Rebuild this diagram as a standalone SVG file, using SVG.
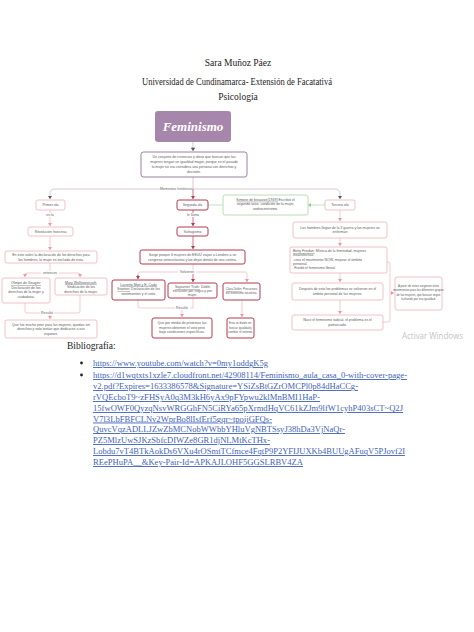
<svg xmlns="http://www.w3.org/2000/svg" width="474" height="632" viewBox="0 0 474 632">
<style>
.hdr{font-family:"Liberation Serif","Times New Roman",serif;font-size:9.5px;fill:#222;text-anchor:middle}
.t{font-family:"Liberation Sans",Arial,sans-serif;font-size:3.5px;fill:#5a5a5a;text-anchor:middle}
.ts{font-family:"Liberation Sans",Arial,sans-serif;font-size:2.9px;fill:#5a5a5a;text-anchor:middle}
.tl{font-family:"Liberation Sans",Arial,sans-serif;font-size:3.5px;fill:#5a5a5a}
.lbl{font-family:"Liberation Sans",Arial,sans-serif;font-size:3.5px;fill:#666;text-anchor:middle}
.u{text-decoration:underline}
.bp{fill:#fff;stroke:#eeb2b8;stroke-width:0.8}
.br{fill:#fff;stroke:#b43a4c;stroke-width:1}
.bg{fill:#fff;stroke:#a6d8a0;stroke-width:0.8}
.cp{fill:none;stroke:#eeb2b8;stroke-width:0.7}
.cr{fill:none;stroke:#b43a4c;stroke-width:0.7}
.cg{fill:none;stroke:#a6d8a0;stroke-width:0.7}
.cm{fill:none;stroke:#cbb0bd;stroke-width:0.7}
.lnk{font-family:"Liberation Serif","Times New Roman",serif;font-size:9px;fill:#3f63b8;text-decoration:underline}
</style>
<defs>
<marker id="ap" markerWidth="4" markerHeight="4" refX="3" refY="2" orient="auto" markerUnits="userSpaceOnUse"><path d="M0,0 L3,2 L0,4 z" fill="#e99aa3"/></marker>
<marker id="ar" markerWidth="4" markerHeight="4" refX="3" refY="2" orient="auto" markerUnits="userSpaceOnUse"><path d="M0,0 L3,2 L0,4 z" fill="#b43a4c"/></marker>
<marker id="am" markerWidth="4" markerHeight="4" refX="3" refY="2" orient="auto" markerUnits="userSpaceOnUse"><path d="M0,0 L3,2 L0,4 z" fill="#555"/></marker>
<marker id="ag" markerWidth="4" markerHeight="4" refX="3" refY="2" orient="auto" markerUnits="userSpaceOnUse"><path d="M0,0 L3,2 L0,4 z" fill="#8fcf88"/></marker>
</defs>
<rect width="474" height="632" fill="#fff"/>

<g id="header">
<text class="hdr" x="238" y="66">Sara Muñoz Páez</text>
<text class="hdr" x="237" y="85" textLength="190" lengthAdjust="spacingAndGlyphs">Universidad de Cundinamarca- Extensión de Facatativá</text>
<text class="hdr" x="238" y="100">Psicología</text>
</g>

<g id="connectors">
<line class="cm" x1="193" y1="142" x2="193" y2="151" marker-end="url(#am)"/>
<line class="cm" x1="193" y1="177" x2="193" y2="189"/>
<path class="cm" d="M55,189 H335 Q340,189 340,194 V199" marker-end="url(#am)"/>
<path class="cm" d="M55,189 Q50,189 50,194 V199" marker-end="url(#am)"/>
<line class="cr" x1="193" y1="189" x2="193" y2="199" marker-end="url(#ar)"/>
<line class="cp" x1="50" y1="210" x2="50" y2="226" marker-end="url(#ap)"/>
<line class="cp" x1="50" y1="236" x2="50" y2="250" marker-end="url(#ap)"/>
<line class="cp" x1="50" y1="263" x2="50" y2="273"/>
<path class="cp" d="M25,277 V275 Q25,273 27,273 H78 Q80,273 80,275 V277" marker-end="url(#ap)"/>
<line class="cp" x1="25" y1="275" x2="25" y2="277" marker-end="url(#ap)"/>
<path class="cp" d="M25,303 V311 Q25,313 27,313 H78 Q80,313 80,311 V295"/>
<line class="cp" x1="50" y1="313" x2="50" y2="319" marker-end="url(#ap)"/>
<line class="cr" x1="193" y1="210" x2="193" y2="226" marker-end="url(#ar)"/>
<line class="cr" x1="193" y1="236" x2="193" y2="249" marker-end="url(#ar)"/>
<line class="cp" x1="193" y1="264" x2="193" y2="272"/>
<path class="cp" d="M138,279 V274 Q138,272 140,272 H245 Q247,272 247,274 V282" marker-end="url(#ap)"/>
<line class="cr" x1="193" y1="272" x2="193" y2="282" marker-end="url(#ar)"/>
<line class="cr" x1="138" y1="275" x2="138" y2="279" marker-end="url(#ar)"/>
<path class="cp" d="M138,300 V306 Q138,308 140,308 H193 V298"/>
<line class="cp" x1="182" y1="308" x2="182" y2="317" marker-end="url(#ap)"/>
<line class="cp" x1="242" y1="300" x2="242" y2="317" marker-end="url(#ap)"/>
<line class="cg" x1="208" y1="205" x2="223" y2="205"/>
<line class="cg" x1="325" y1="205" x2="308" y2="205" marker-end="url(#ag)"/>
<line class="cp" x1="340" y1="210" x2="340" y2="221" marker-end="url(#ap)"/>
<line class="cp" x1="340" y1="238" x2="340" y2="246" marker-end="url(#ap)"/>
<line class="cp" x1="340" y1="273" x2="340" y2="282" marker-end="url(#ap)"/>
<line class="cp" x1="340" y1="300" x2="340" y2="314" marker-end="url(#ap)"/>
<path class="cp" d="M387,262 H388 Q390,262 390,264 V320 Q390,322 388,322 H383"/>
<line class="cp" x1="390" y1="293" x2="394" y2="293" marker-end="url(#ap)"/>
</g>

<g id="labels">
<text class="lbl" x="193" y="149">es</text>
<rect x="160" y="187" width="32" height="4" fill="#fff"/>
<text class="lbl" x="176" y="190.3">Momentos históricos</text>
<rect x="43" y="213" width="14" height="4" fill="#fff"/>
<text class="lbl" x="50" y="216">en la</text>
<rect x="185" y="213" width="16" height="4" fill="#fff"/>
<text class="lbl" x="193" y="216">le llama</text>
<rect x="41" y="271" width="18" height="4" fill="#fff"/>
<text class="lbl" x="50" y="274.3">entonces</text>
<rect x="40" y="311" width="14" height="4" fill="#fff"/>
<text class="lbl" x="47" y="314.3">Resultó</text>
<rect x="178" y="270" width="18" height="4" fill="#fff"/>
<text class="lbl" x="187" y="273.3">Volvieron</text>
<rect x="175" y="306" width="15" height="4" fill="#fff"/>
<text class="lbl" x="182" y="309.3">Resultó</text>
</g>

<g id="feminismo">
<rect x="155" y="111" width="76" height="31" rx="3" fill="#a686aa"/>
<text x="193" y="131" font-family="'Liberation Serif','Times New Roman',serif" font-size="13" font-style="italic" font-weight="bold" fill="#fff" text-anchor="middle">Feminismo</text>
</g>

<g id="definicion">
<rect x="141" y="152" width="106" height="25" rx="2.5" fill="#fff" stroke="#8f7297" stroke-width="0.9"/>
<text class="t" x="194" y="158">Un conjunto de creencias y ideas que buscan que las</text>
<text class="t" x="194" y="163">mujeres tengan un igualdad mayor, porque en el pasado</text>
<text class="t" x="194" y="168">la mujer no era considera una persona con derechos y</text>
<text class="t" x="194" y="173">decisión.</text>
</g>

<g id="primer-ola">
<rect class="bp" x="36" y="200" width="29" height="10" rx="2"/>
<text class="t" x="50.5" y="206.3">Primer ola</text>
</g>
<g id="revolucion">
<rect class="bp" x="28" y="227" width="45" height="9" rx="2"/>
<text class="t" x="50.5" y="232.8">Revolución francesa</text>
</g>
<g id="declaracion">
<rect class="bp" x="5" y="251" width="92" height="12" rx="2"/>
<text class="t" x="51" y="256.3">En este salen la declaración de los derechos para</text>
<text class="t" x="51" y="260.8">los hombres, la mujer es excluida de esta.</text>
</g>
<g id="olimpe">
<rect class="bp" x="2" y="278" width="48" height="25" rx="2"/>
<text class="t" x="26" y="284"><tspan class="u">Olimpe de Gouges:</tspan></text>
<text class="t" x="26" y="288.5">Declaración de los</text>
<text class="t" x="26" y="293">derechos de la mujer y</text>
<text class="t" x="26" y="297.5">ciudadana.</text>
</g>
<g id="mary">
<rect class="bp" x="55" y="278" width="52" height="17" rx="2"/>
<text class="t" x="81" y="283.5"><tspan class="u">Mary Wollstonecraft:</tspan></text>
<text class="t" x="81" y="288">Vindicación de los</text>
<text class="t" x="81" y="292.5">derechos de la mujer.</text>
</g>
<g id="peor">
<rect class="bp" x="5" y="320" width="92" height="18" rx="2"/>
<text class="t" x="51" y="325.5">Que fue mucho peor para las mujeres, quedan sin</text>
<text class="t" x="51" y="330">derechos y solo tenían que dedicarse a sus</text>
<text class="t" x="51" y="334.5">esposos.</text>
</g>

<g id="segunda-ola">
<rect class="br" x="177" y="200" width="31" height="10" rx="2"/>
<text class="t" x="192.5" y="206.3">Segunda ola</text>
</g>
<g id="sufragismo">
<rect class="br" x="177" y="227" width="31" height="9" rx="2"/>
<text class="t" x="192.5" y="232.8">Sufragismo</text>
</g>
<g id="surge">
<rect class="br" x="140" y="250" width="105" height="14" rx="2"/>
<text class="t" x="192.5" y="256" font-size="3.3">Surge porque 6 mujeres de EEUU viajan a Londres a un</text>
<text class="t" x="192.5" y="260.5" font-size="3.3">congreso antiesclavista y las dejan detrás de una cortina.</text>
</g>
<g id="lucretia">
<rect class="br" x="112" y="280" width="53" height="20" rx="2"/>
<text class="t" x="138.5" y="285.5"><tspan class="u">Lucretia Mott y E. Cady</tspan></text>
<text class="t" x="138.5" y="290"><tspan class="u">Stanton:</tspan> Declaración de los</text>
<text class="t" x="138.5" y="294.5">sentimientos y el voto.</text>
</g>
<g id="sojourner">
<rect class="br" x="168" y="283" width="49" height="15" rx="2"/>
<text class="t" x="192.5" y="288"><tspan class="u">Sojourner Truth:</tspan> Doble</text>
<text class="t" x="192.5" y="292">exclusión por negra y por</text>
<text class="t" x="192.5" y="296">mujer.</text>
</g>
<g id="clara">
<rect class="br" x="223" y="283" width="37" height="17" rx="2"/>
<text class="ts" x="241.5" y="290"><tspan class="u">Clara Zetkin:</tspan> Precursora</text>
<text class="ts" x="241.5" y="294">del feminismo socialista.</text>
</g>
<g id="voto">
<rect class="br" x="152" y="318" width="60" height="20" rx="2"/>
<text class="t" x="182" y="324">Que por medio de protestas las</text>
<text class="t" x="182" y="328.5">mujeres obtienen el voto pero</text>
<text class="t" x="182" y="333">bajo condiciones específicas.</text>
</g>
<g id="divide">
<rect class="br" x="227" y="318" width="27" height="20" rx="2"/>
<text class="ts" x="240.5" y="324">Esta se divide en:</text>
<text class="ts" x="240.5" y="328.5">buscar igualdad y</text>
<text class="ts" x="240.5" y="333">cambiar el sistema.</text>
</g>

<g id="simone">
<rect class="bg" x="223" y="195" width="85" height="20" rx="2"/>
<text class="t" x="265.5" y="200.8"><tspan class="u">Simone de beauvoir(1949)</tspan> Escribió el</text>
<text class="t" x="265.5" y="205.3">segundo sexo, condición de la mujer,</text>
<text class="t" x="265.5" y="209.8">androcentrismo.</text>
</g>

<g id="tercera-ola">
<rect class="bp" x="325" y="200" width="30" height="10" rx="2"/>
<text class="t" x="340" y="206.3">Tercera ola</text>
</g>
<g id="guerra">
<rect class="bp" x="293" y="222" width="94" height="16" rx="2"/>
<text class="t" x="340" y="228.5" font-size="3.3">Los hombres llegan de la II guerra y las mujeres se</text>
<text class="t" x="340" y="233" font-size="3.3">enferman</text>
</g>
<g id="betty">
<rect class="bp" x="290" y="247" width="97" height="26" rx="2"/>
<text class="tl" x="293" y="252"><tspan class="u">Betty Friedan:</tspan> Mística de la feminidad, mujeres</text>
<text class="tl" x="293" y="256.3">insatisfechas.</text>
<text class="tl" x="293" y="260.6">-crea el movimiento NOW, mejorar el ámbito</text>
<text class="tl" x="293" y="264.9">personal.</text>
<text class="tl" x="293" y="269.2">-Fundó el  feminismo liberal</text>
</g>
<g id="despues">
<rect class="bp" x="292" y="283" width="91" height="17" rx="2"/>
<text class="t" x="337.5" y="290">Después de esto los problemas se volvieron en el</text>
<text class="t" x="337.5" y="294.5">ámbito personal de las mujeres.</text>
</g>
<g id="radical">
<rect class="bp" x="292" y="315" width="91" height="15" rx="2"/>
<text class="t" x="337.5" y="321.3">Nace el feminismo radical, el problema es el</text>
<text class="t" x="337.5" y="325.8">patriarcado.</text>
</g>
<g id="movimientos">
<rect class="bp" x="395" y="277" width="47" height="33" rx="2"/>
<text class="ts" x="418.5" y="287">A partir de estos surgieron otros</text>
<text class="ts" x="418.5" y="291.3">movimientos para los diferentes grupos</text>
<text class="ts" x="418.5" y="295.6">de las mujeres, que buscan seguir</text>
<text class="ts" x="418.5" y="299.9">luchando por esa igualdad.</text>
</g>

<text x="402" y="338.5" font-family="'Open Sans','Liberation Sans',sans-serif" font-size="8.5" fill="#c4c4c4" textLength="61" lengthAdjust="spacingAndGlyphs">Activar Windows</text>

<g id="bibliografia">
<text x="67" y="349" font-family="'Liberation Serif','Times New Roman',serif" font-size="9.5" fill="#222">Bibliografía:</text>
<circle cx="81.5" cy="363" r="1.4" fill="#222"/>
<circle cx="81.5" cy="375" r="1.4" fill="#222"/>
<text class="lnk" x="93" y="366" textLength="175" lengthAdjust="spacingAndGlyphs">https://www.youtube.com/watch?v=0my1oddgK5g</text>
<text class="lnk" x="93" y="378" textLength="314" lengthAdjust="spacingAndGlyphs">https://d1wqtxts1xzle7.cloudfront.net/42908114/Feminismo_aula_casa_0-with-cover-page-</text>
<text class="lnk" x="93" y="389" textLength="265" lengthAdjust="spacingAndGlyphs">v2.pdf?Expires=1633386578&amp;Signature=YSiZsBtGZrOMCPl0p84dHaCCg-</text>
<text class="lnk" x="93" y="400" textLength="227" lengthAdjust="spacingAndGlyphs">rVQEcboT9~zFHSyA0q3M3kH6yAx9pFYpwu2klMnBMI1HaP-</text>
<text class="lnk" x="93" y="411" textLength="310" lengthAdjust="spacingAndGlyphs">15fwOWF0QyzqNsvWRGGhFN5CiRYa65pXrmdHqVC61kZJm9lfW1cyhP403sCT~Q2J</text>
<text class="lnk" x="93" y="421.5" textLength="179" lengthAdjust="spacingAndGlyphs">V7l3LbFBFCLNv2WprBo8lIsfErf5gqr~tpoijGFQs-</text>
<text class="lnk" x="93" y="432" textLength="252" lengthAdjust="spacingAndGlyphs">QuvcVqzADLLJZwZbMCNobWWbbYHluVgNBTSsyJ38hDa3VjNaQr-</text>
<text class="lnk" x="93" y="443" textLength="177" lengthAdjust="spacingAndGlyphs">PZ5MlzUwSJKzSbfcDIWZe8GR1djNLMtKcTHx-</text>
<text class="lnk" x="93" y="454" textLength="312" lengthAdjust="spacingAndGlyphs">Lobdu7vT4BTkAokDs6VXu4rOSmtTCfmce4FqtP9P2YFIJUXKb4BUUgAFuqV5PJovf2I</text>
<text class="lnk" x="93" y="465" textLength="210" lengthAdjust="spacingAndGlyphs">REePHuPA__&amp;Key-Pair-Id=APKAJLOHF5GGSLRBV4ZA</text>
</g>
</svg>
